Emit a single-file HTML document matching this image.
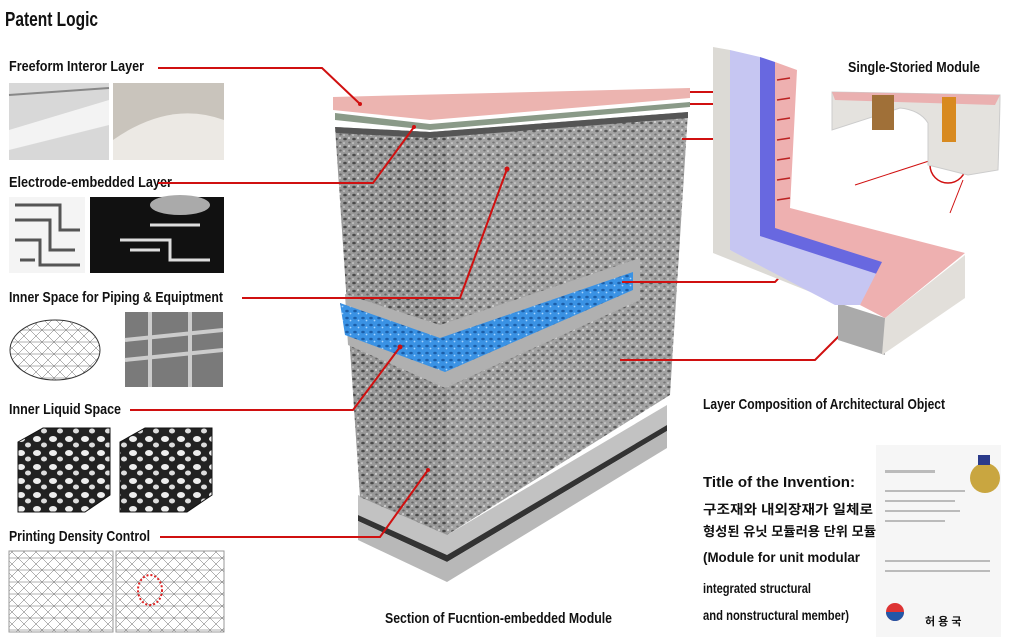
<!DOCTYPE html>
<html><head><meta charset="utf-8"><style>
html,body{margin:0;padding:0;background:#fff;}
svg{display:block;}
text{font-family:"Liberation Sans","Noto Sans CJK KR",sans-serif;font-weight:bold;fill:#111;}
</style></head><body>
<svg width="1023" height="642" viewBox="0 0 1023 642" xmlns="http://www.w3.org/2000/svg">
<defs>
<pattern id="tex" width="9" height="8" patternUnits="userSpaceOnUse">
<rect width="9" height="8" fill="#999"/>
<ellipse cx="3" cy="3" rx="1.8" ry="1.3" fill="#4a4a4a"/>
<ellipse cx="7.5" cy="6.5" rx="1.3" ry="1" fill="#666"/>
<circle cx="7" cy="2" r="0.9" fill="#e8e8e8"/>
<circle cx="2" cy="7" r="0.8" fill="#dadada"/>
</pattern>
<pattern id="texb" width="8" height="7" patternUnits="userSpaceOnUse">
<rect width="8" height="7" fill="#3a92e4"/>
<ellipse cx="3" cy="3" rx="1.8" ry="1.3" fill="#1c5ea8"/>
<circle cx="6.5" cy="5.5" r="0.9" fill="#a8d6ff"/>
</pattern>
<pattern id="foam" width="16" height="14" patternUnits="userSpaceOnUse">
<rect width="16" height="14" fill="#222"/>
<ellipse cx="5" cy="5" rx="4" ry="3" fill="#eee"/>
<ellipse cx="12" cy="11" rx="3" ry="2.5" fill="#ddd"/>
</pattern>
<pattern id="mesh" width="12" height="12" patternUnits="userSpaceOnUse">
<rect width="12" height="12" fill="#fff"/>
<path d="M0 0L12 12M12 0L0 12M0 6H12" stroke="#666" stroke-width="0.5"/>
</pattern>
</defs>

<text x="5" y="26" font-size="20" textLength="93" lengthAdjust="spacingAndGlyphs">Patent Logic</text>
<text x="9" y="71" font-size="15" textLength="135" lengthAdjust="spacingAndGlyphs">Freeform Interor Layer</text>
<text x="9" y="187" font-size="15" textLength="163" lengthAdjust="spacingAndGlyphs">Electrode-embedded Layer</text>
<text x="9" y="302" font-size="15" textLength="214" lengthAdjust="spacingAndGlyphs">Inner Space for Piping &amp; Equiptment</text>
<text x="9" y="414" font-size="15" textLength="112" lengthAdjust="spacingAndGlyphs">Inner Liquid Space</text>
<text x="9" y="541" font-size="15" textLength="141" lengthAdjust="spacingAndGlyphs">Printing Density Control</text>

<!-- left images -->
<rect x="9" y="83" width="100" height="77" fill="#d8d8d8"/>
<path d="M9 130 L109 100 L109 125 L9 150Z" fill="#f3f3f3"/>
<path d="M9 95 L109 88" stroke="#888" stroke-width="2"/>
<rect x="113" y="83" width="111" height="77" fill="#c9c4bc"/>
<path d="M113 140 Q170 100 224 120 L224 160 L113 160Z" fill="#ece9e4"/>
<rect x="9" y="197" width="76" height="76" fill="#f4f4f4"/>
<path d="M15 205 H60 V230 H80 M15 220 H50 V250 H75 M15 240 H40 V265 H80 M20 260 H35" stroke="#555" stroke-width="3" fill="none"/>
<rect x="90" y="197" width="134" height="76" fill="#111"/>
<path d="M120 240 H170 V260 H210 M130 250 H160 M150 225 H200" stroke="#ddd" stroke-width="3" fill="none"/>
<ellipse cx="180" cy="205" rx="30" ry="10" fill="#aaa"/>
<ellipse cx="55" cy="350" rx="45" ry="30" fill="url(#mesh)" stroke="#333"/>
<rect x="125" y="312" width="98" height="75" fill="#7a7a7a"/>
<path d="M125 340 L223 330 M125 360 L223 350 M150 312 V387 M190 312 V387" stroke="#ccc" stroke-width="4"/>
<path d="M18 442 L43 428 H110 V495 L85 512 H18Z" fill="url(#foam)" stroke="#111"/>
<path d="M120 442 L145 428 H212 V495 L187 512 H120Z" fill="url(#foam)" stroke="#111"/>
<rect x="9" y="551" width="104" height="81" fill="url(#mesh)" stroke="#999"/>
<rect x="116" y="551" width="108" height="81" fill="url(#mesh)" stroke="#999"/>
<ellipse cx="150" cy="590" rx="12" ry="15" fill="none" stroke="#d22" stroke-width="2" stroke-dasharray="2 2"/>

<!-- central module: bottom slabs -->
<polygon points="358,495 447,535 667,405 667,425 447,555 358,515" fill="#c2c2c2"/>
<polygon points="358,515 447,555 667,425 667,431 447,562 358,521" fill="#333"/>
<polygon points="358,521 447,562 667,431 667,448 447,582 358,540" fill="#b8b8b8"/>
<!-- textured faces -->
<polygon points="335,127 430,132 447,133 447,535 360,497" fill="url(#tex)"/>
<polygon points="430,132 688,112 670,395 447,535 447,133" fill="url(#tex)" opacity="0.9"/>
<polygon points="335,127 430,132 688,112 688,118 430,138 336,133" fill="#555"/>
<!-- blue band -->
<polygon points="345,294 440,325 640,258 640,300 445,388 348,345" fill="#b0b0b0"/>
<polygon points="340,303 440,338 633,272 633,290 445,372 345,335" fill="url(#texb)"/>
<!-- top slabs -->
<polygon points="333,97 690,88 690,98 430,120 333,110" fill="#ecb4b0"/>
<polygon points="335,113 430,124 690,102 690,107 430,130 335,120" fill="#8a9a88"/>

<!-- red leader lines -->
<g stroke="#d01010" stroke-width="2" fill="none">
<polyline points="158,68 322,68 360,104"/>
<polyline points="158,183 373,183 414,127"/>
<polyline points="242,298 460,298 507,169"/>
<polyline points="130,410 353,410 400,347"/>
<polyline points="160,537 380,537 428,470"/>
<polyline points="690,92 771,92 788,107"/>
<polyline points="690,104 758,104 775,118"/>
<polyline points="682,139 753,139 770,263"/>
<polyline points="622,282 775,282 807,248"/>
<polyline points="620,360 815,360 855,320"/>
<line x1="855" y1="185" x2="932" y2="160" stroke-width="1"/>
<line x1="950" y1="213" x2="963" y2="180" stroke-width="1"/>
<circle cx="948" cy="165" r="18" stroke-width="1.5"/>
</g>
<g fill="#d01010">
<circle cx="788" cy="107" r="2.5"/><circle cx="775" cy="118" r="2.5"/><circle cx="770" cy="263" r="2.5"/><circle cx="807" cy="248" r="2.5"/><circle cx="855" cy="320" r="2.5"/>
<circle cx="507" cy="169" r="2.5"/><circle cx="400" cy="347" r="2.5"/><circle cx="414" cy="127" r="2"/><circle cx="360" cy="104" r="2"/><circle cx="428" cy="470" r="2"/>
</g>

<!-- L wall -->
<polygon points="713,47 730,50 730,250 838,300 838,303 713,253" fill="#dcdad5"/>
<polygon points="838,303 885,318 885,355 838,340" fill="#aaa"/>
<polygon points="885,318 965,255 965,298 882,355" fill="#e2dfda"/>
<polygon points="730,50 760,57 760,235 880,275 860,305 835,305 730,250" fill="#c6c6f2"/>
<polygon points="760,57 775,62 775,226 885,258 880,275 760,236" fill="#6868e0"/>
<polygon points="775,62 797,70 790,208 965,253 885,318 860,305 882,262 775,228" fill="#eeb0b0"/>
<g stroke="#b22" stroke-width="1.5"><line x1="777" y1="80" x2="790" y2="78"/><line x1="777" y1="100" x2="790" y2="98"/><line x1="777" y1="120" x2="790" y2="118"/><line x1="777" y1="140" x2="790" y2="138"/><line x1="777" y1="160" x2="790" y2="158"/><line x1="777" y1="180" x2="790" y2="178"/><line x1="777" y1="200" x2="790" y2="198"/></g>

<!-- single storied module -->
<text x="848" y="72" font-size="15" textLength="132" lengthAdjust="spacingAndGlyphs">Single-Storied Module</text>
<path d="M832 92 L1000 95 Q1000 110 998 170 L968 175 L928 165 L928 123 Q920 110 900 108 L832 130Z" fill="#e4e2de" stroke="#ccc"/>
<path d="M832 92 L1000 95 L995 105 L835 100Z" fill="#eab0b0"/>
<rect x="872" y="95" width="22" height="35" fill="#a07038"/>
<rect x="942" y="97" width="14" height="45" fill="#d88a20"/>

<text x="703" y="409" font-size="15" textLength="242" lengthAdjust="spacingAndGlyphs">Layer Composition of Architectural Object</text>
<text x="703" y="487" font-size="15" textLength="152" lengthAdjust="spacingAndGlyphs">Title of the Invention:</text>
<text x="703" y="514" font-size="13" textLength="170" lengthAdjust="spacingAndGlyphs">구조재와 내외장재가 일체로</text>
<text x="703" y="536" font-size="13" textLength="173" lengthAdjust="spacingAndGlyphs">형성된 유닛 모듈러용 단위 모듈</text>
<text x="703" y="562" font-size="14" textLength="157" lengthAdjust="spacingAndGlyphs">(Module for unit modular</text>
<text x="703" y="593" font-size="14" textLength="108" lengthAdjust="spacingAndGlyphs">integrated structural</text>
<text x="703" y="620" font-size="14" textLength="146" lengthAdjust="spacingAndGlyphs">and nonstructural member)</text>

<!-- certificate -->
<rect x="876" y="445" width="125" height="192" fill="#f6f6f6"/>
<circle cx="985" cy="478" r="15" fill="#c9a640"/>
<rect x="978" y="455" width="12" height="10" fill="#2a3a8a"/>
<g fill="#bbb"><rect x="885" y="470" width="50" height="3"/><rect x="885" y="490" width="80" height="2"/><rect x="885" y="500" width="70" height="2"/><rect x="885" y="510" width="75" height="2"/><rect x="885" y="520" width="60" height="2"/><rect x="885" y="560" width="105" height="2"/><rect x="885" y="570" width="105" height="2"/></g>
<circle cx="895" cy="612" r="9" fill="#d33"/><path d="M886 612 A9 9 0 0 0 904 612Z" fill="#2257a8"/>
<text x="925" y="625" font-size="11">허 용 국</text>

<text x="385" y="623" font-size="15" textLength="227" lengthAdjust="spacingAndGlyphs">Section of Fucntion-embedded Module</text>
</svg>
</body></html>
